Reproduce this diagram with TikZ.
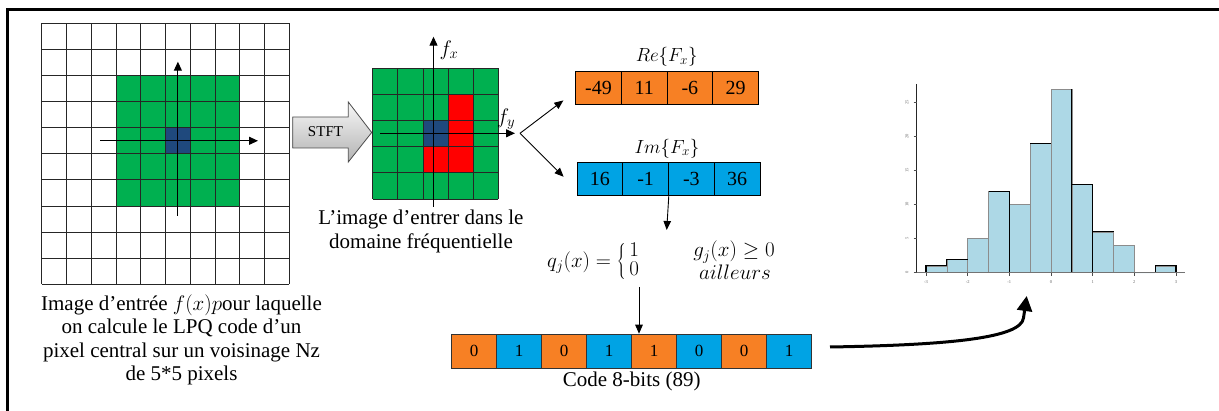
\RequirePackage{fix-cm}
\documentclass[tikz,border=0pt]{standalone}
\usepackage{fontspec}
\setmainfont{Liberation Serif}
\usetikzlibrary{arrows.meta,calc}

\definecolor{gridgreen}{RGB}{0,176,80}
\definecolor{pixblue}{RGB}{31,73,125}
\definecolor{hotred}{RGB}{255,0,0}
\definecolor{codeorange}{RGB}{247,128,36}
\definecolor{codeblue}{RGB}{0,163,228}
\definecolor{barblue}{RGB}{173,216,230}

\begin{document}
\begin{tikzpicture}[x=1pt,y=-1pt,
  txt/.style={font=\fontsize{21}{23.3}\selectfont, inner sep=0pt, align=center},
  mtxt/.style={font=\fontsize{19}{23}\selectfont, inner sep=0pt, align=center},
  ftxt/.style={font=\fontsize{21}{24}\selectfont, inner sep=0pt, align=center},
  gridline/.style={draw=black!85, line width=0.8pt},
  valcell/.style={draw=black, line width=0.8pt, minimum width=45.65pt, minimum height=32.3pt,
                  inner sep=0pt, font=\fontsize{20}{24}\selectfont},
  bitcell/.style={draw=black!80, line width=0.6pt, minimum width=45pt, minimum height=34.3pt,
                  inner sep=0pt, font=\fontsize{17}{20}\selectfont},
  axis/.style={line width=1.1pt, -{Triangle[length=9pt,width=8pt]}},
  link/.style={line width=0.9pt, -{Triangle[length=9pt,width=7.5pt]}},
  tick/.style={inner sep=0pt, font=\fontsize{4.5}{5}\selectfont, text=black!60},
]
\useasboundingbox (0,0) rectangle (1219,411);

% outer frame (top and left sides)
\draw[line width=2.5pt] (7.5,411) -- (7.5,9.5) -- (1219,9.5);

% ---------- input image: 10x10 pixel grid ----------
\fill[gridgreen] (116,75.5) rectangle (239.8,206);
\fill[pixblue] (165.5,127.7) rectangle (190.3,153.8);
\foreach \k in {0,...,10} {
  \draw[gridline] (41.7+24.76*\k,23.3) -- (41.7+24.76*\k,284.3);
  \draw[gridline] (41.7,23.3+26.1*\k) -- (289.3,23.3+26.1*\k);
}
\coordinate (lv0) at (177.9,216);
\coordinate (lv1) at (177.9,61.7);
\coordinate (lh0) at (100,140.8);
\coordinate (lh1) at (258,140.8);
\draw[axis] (lv0) -- (lv1);
\draw[axis] (lh0) -- (lh1);

\node[txt] (inputcap) at (181.5,340)
  {Image d’entrée $f(x)p$our laquelle\\on calcule le LPQ code d’un\\pixel central sur un voisinage Nz\\de 5*5 pixels};

% ---------- STFT block arrow ----------
\shade[top color=gray!6, bottom color=gray!60, draw=black!70, line width=0.8pt]
  (292.7,117) -- (348.3,117) -- (348.3,102) -- (371.7,132.5) -- (348.3,162)
  -- (348.3,148) -- (292.7,148) -- cycle;
\node[inner sep=0pt, font=\fontsize{15}{18}\selectfont] (stft) at (325.5,132) {STFT};

% ---------- frequency domain: 5x5 grid ----------
\fill[gridgreen] (372.7,68.3) rectangle (498.3,199);
\fill[hotred] (448,94.4) rectangle (473.1,172.7);
\fill[hotred] (422.9,146.6) rectangle (448,172.7);
\fill[pixblue] (422.9,120.5) rectangle (448,146.6);
\foreach \k in {0,...,5} {
  \draw[gridline] (372.7+25.12*\k,68.3) -- (372.7+25.12*\k,199);
  \draw[gridline] (372.7,68.3+26.14*\k) -- (498.3,68.3+26.14*\k);
}
\coordinate (fv0) at (433.5,206.7);
\coordinate (fv1) at (433.5,36.7);
\coordinate (fh0) at (380,133.3);
\coordinate (fh1) at (515,133.3);
\draw[axis] (fv0) -- (fv1);
\draw[axis] (fh0) -- (fh1);
\node[ftxt] (fxlab) at (449,50) {$f_x$};
\node[ftxt] (fylab) at (506,119) {$f_y$};
\node[txt] (freqcap) at (421,231.5) {L’image d’entrer dans le\\domaine fréquentielle};

% ---------- real and imaginary parts ----------
\foreach \v [count=\i] in {-49,11,-6,29}
  \node[valcell, fill=codeorange] (re\i) at (575.7+45.65*\i-22.8,87.9) {\v};
\foreach \v [count=\i] in {16,-1,-3,36}
  \node[valcell, fill=codeblue] (im\i) at (577+45.75*\i-22.9,178.8) {\v};
\node[mtxt] (relab) at (666.7,56.7) {$Re\{F_x\}$};
\node[mtxt] (imlab) at (667,148.3) {$Im\{F_x\}$};

\coordinate (split) at (520,133.3);
\draw[link] (split) -- ($(re1.south west)+(-12,-4)$);
\draw[link] (split) -- ($(im1.west)+(-13,-2)$);

% ---------- quantisation ----------
\coordinate (qin) at (666.7,230);
\draw[link] (im2.south east) -- (qin);
\node[ftxt, anchor=west] (qdef) at (547,262)
  {\renewcommand\arraystretch{0.8}$q_j(x) = \left\{\begin{array}{@{\,}l@{}}1\\0\end{array}\right.$};
\node[ftxt] (cond1) at (734,252) {$g_j(x) \geq 0$};
\node[ftxt] (cond2) at (735,272) {$ailleurs$};

% ---------- 8-bit code ----------
\foreach \v/\c [count=\i] in {0/codeorange,1/codeblue,0/codeorange,1/codeblue,
                              1/codeorange,0/codeblue,0/codeorange,1/codeblue}
  \node[bitcell, fill=\c] (b\i) at (451.7+45*\i-22.5,351.2) {\v};
\coordinate (qout) at (639,287);
\draw[link] (qout) -- (qout |- b5.north);
\node[txt] (codelab) at (631.7,381.5) {Code 8-bits (89)};

% ---------- histogram ----------
\foreach \h [count=\i] in {1,2,5,12,10,19,27,13,6,4,0,1} {
  \fill[barblue] (926+20.83*\i-20.83,272.7) rectangle (926+20.83*\i,272.7-6.8*\h);
  \draw[black!45, line width=0.5pt] (926+20.83*\i-20.83,272.7) rectangle (926+20.83*\i,272.7-6.8*\h);
}
\draw[black, line width=1.1pt]
  (926,272.7) -- (926,265.9) -- (946.8,265.9) -- (946.8,259.1) -- (967.7,259.1);
\draw[black, line width=1.1pt] (988.5,191.1) -- (1009.3,191.1) -- (1009.3,272.7);
\draw[black, line width=1.1pt] (1030.2,143.5) -- (1051,143.5);
\draw[black, line width=1.1pt] (1071.8,89.1) -- (1071.8,272.7);
\draw[black, line width=1.1pt] (1071.8,184.3) -- (1092.7,184.3) -- (1092.7,272.7);
\draw[black, line width=1.1pt] (1092.7,231.9) -- (1113.5,231.9);
\draw[black, line width=1.1pt] (1155.2,272.7) -- (1155.2,265.9) -- (1176,265.9) -- (1176,272.7);
\draw[black!85, line width=0.8pt] (916.7,84) -- (916.7,272.7);
\draw[black!55, line width=1pt] (916.7,272.7) -- (1185,272.7);
\foreach \k/\lab in {0/0,1/5,2/10,3/15,4/20,5/25} {
  \draw[black!70, line width=0.5pt] (913.5,272.7-34*\k) -- (916.7,272.7-34*\k);
  \node[tick, rotate=90] (yt\k) at (907,272.7-34*\k) {\lab};
}
\foreach \xx/\lab [count=\i] in {926/-3,967.7/-2,1009.3/-1,1051/0,1092.7/1,1134.3/2,1176/3} {
  \draw[black!70, line width=0.5pt] (\xx,272.7) -- (\xx,276.5);
  \node[tick] (xt\i) at (\xx,282) {\lab};
}

% ---------- code to histogram ----------
\coordinate (cstart) at (830,347);
\coordinate (hin) at (1026.7,296);
\draw[line width=3pt, -{Triangle[length=15pt,width=15pt]}]
  (cstart) .. controls (950,345) and (1021,338) .. (1023.5,318) -- (hin);
\end{tikzpicture}
\end{document}
